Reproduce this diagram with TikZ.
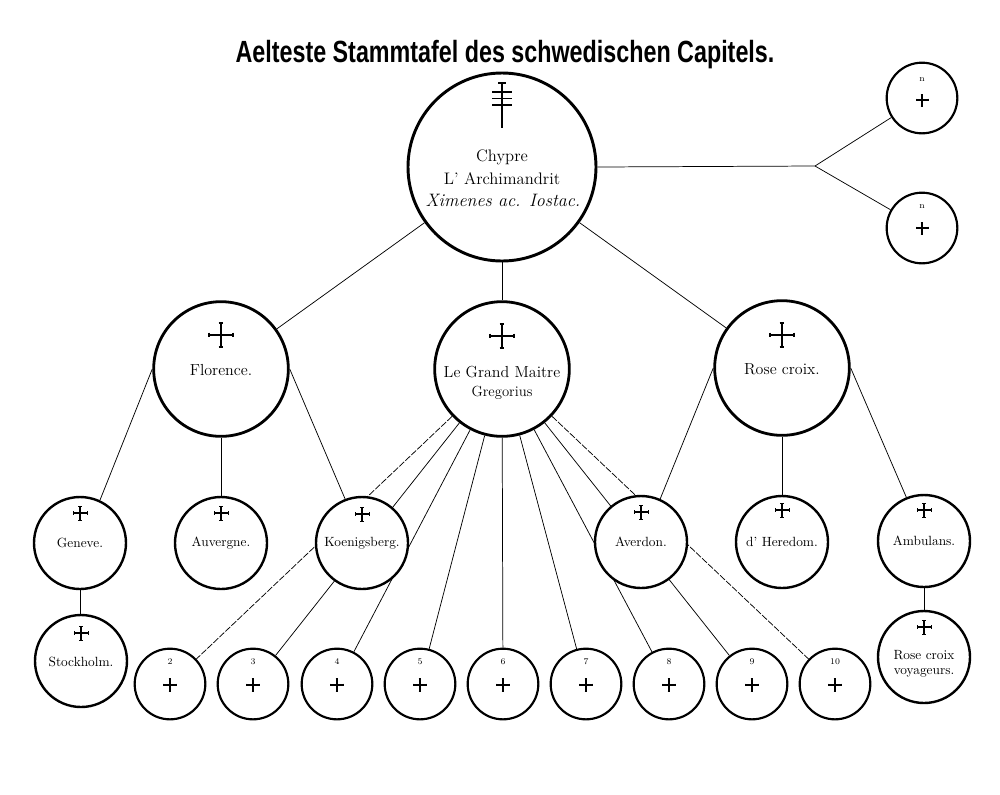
\documentclass[tikz,border=0pt]{standalone}
\usepackage{fontspec}
\newfontfamily\titlefont{Liberation Sans}
\usetikzlibrary{backgrounds}
\tikzset{
  crossL/.pic={
    \draw[line width=1.7pt] (-1,0)--(1,0) (0,-1)--(0,1);
    \draw[line width=0.9pt] (-1,-0.2)--(-1,0.2) (1,-0.2)--(1,0.2) (-0.2,-1)--(0.2,-1) (-0.2,1)--(0.2,1);
  },
  crossS/.pic={
    \draw[line width=1.2pt] (-1,0)--(1,0) (0,-1)--(0,1);
    \draw[line width=0.7pt] (-1,-0.22)--(-1,0.22) (1,-0.22)--(1,0.22) (-0.22,-1)--(0.22,-1) (-0.22,1)--(0.22,1);
  }
}
\begin{document}
\begin{tikzpicture}[x=0.75pt,y=-0.75pt,
  ring/.style={circle,draw,fill=white,inner sep=0pt},
  chyring/.style={ring,line width=2.2pt,minimum size=141pt},
  bigring/.style={ring,line width=2.1pt,minimum size=101pt},
  midring/.style={ring,line width=1.8pt,minimum size=69pt},
  smallring/.style={ring,line width=1.6pt,minimum size=53pt},
  conn/.style={line width=0.55pt},
  dconn/.style={conn,dash pattern=on 5pt off 1.2pt},
  lblA/.style={inner sep=0pt,font=\fontsize{12.5}{14}\selectfont},
  lblB/.style={inner sep=0pt,font=\fontsize{12}{14}\selectfont},
  lblC/.style={inner sep=0pt,font=\fontsize{10}{12}\selectfont},
  lblN/.style={inner sep=0pt,font=\fontsize{6.5}{7}\selectfont}
]
\useasboundingbox (0,0) rectangle (1000,794);

% title
\node[inner sep=0pt,anchor=base] (title) at (505,62)
  {\titlefont\bfseries\fontsize{23}{26}\selectfont\scalebox{0.76}[1]{Aelteste Stammtafel des schwedischen Capitels.}};

% circles
\node[chyring] (chy) at (502,167) {};
\node[smallring] (n1) at (922,98) {};
\node[smallring] (n2) at (922,228) {};
\coordinate (br) at (815,166);

\node[bigring] (flor) at (221,369) {};
\node[bigring] (gm) at (502,369) {};
\node[bigring] (rose) at (782,368) {};

\node[midring] (gen) at (80,543) {};
\node[midring] (auv) at (221,543) {};
\node[midring] (koe) at (362,543) {};
\node[midring] (ave) at (641,542) {};
\node[midring] (her) at (782,542) {};
\node[midring] (amb) at (924,541) {};
\node[midring] (sto) at (81,661) {};
\node[midring] (rcv) at (924,657) {};

\foreach \i/\x in {2/170,3/253,4/337,5/420,6/503,7/586,8/669,9/752,10/835}{
  \node[smallring] (c\i) at (\x,684) {};
  \node[lblN] (c\i n) at (\x,662) {\i};
  \pic[scale=6.5] at (\x,685) {crossS};
}

% connectors (behind the circles)
\begin{scope}[on background layer]
  \fill[white] (0,0) rectangle (1000,794);
  \draw[conn] (chy) -- (flor);
  \draw[conn] (chy) -- (gm);
  \draw[conn] (chy) -- (rose);
  \draw[conn] (chy.east) -- (br);
  \draw[conn] (br) -- (n1);
  \draw[conn] (br) -- (n2);
  \draw[conn] (flor.west) -- (gen.65);
  \draw[conn] (flor) -- (auv);
  \draw[conn] (flor.east) -- (koe.111);
  \draw[conn] (gen) -- (sto);
  \draw[dconn] (gm) -- (c2);
  \draw[conn] (gm) -- (c3);
  \draw[conn] (gm) -- (c4);
  \draw[conn] (gm) -- (c5);
  \draw[conn] (gm) -- (c6);
  \draw[conn] (gm) -- (c7);
  \draw[conn] (gm) -- (c8);
  \draw[conn] (gm) -- (c9);
  \draw[dconn] (gm) -- (c10);
  \draw[conn] (rose.west) -- (ave.66);
  \draw[conn] (rose) -- (her);
  \draw[conn] (rose.east) -- (amb.112);
  \draw[conn] (amb) -- (rcv);
\end{scope}

% Chypre contents
\draw[line width=1.5pt] (502,83) -- (502,128);
\draw[line width=1.3pt] (498,83) -- (506,83) (492,92) -- (512,92) (492,98.5) -- (512,98.5) (492,105) -- (512,105);
\node[lblA] (chyA) at (502,157) {Chypre};
\node[lblA] (chyB) at (502,179) {L' Archimandrit};
\node[inner sep=0pt,font=\fontsize{13.5}{15}\selectfont\itshape] (chyC) at (503,200) {Ximenes ac. Iostac.};

% top-right small circles
\node[lblN] (n1n) at (922,80) {n};
\pic[scale=6] at (922,100) {crossS};
\node[lblN] (n2n) at (922,207) {n};
\pic[scale=6] at (922,228) {crossS};

% level 2
\pic[scale=12] at (221,335) {crossL};
\node[lblB] (florT) at (221,370) {Florence.};
\pic[scale=12] at (502,336) {crossL};
\node[lblB] (gmT) at (502,372) {Le Grand Maitre};
\node[inner sep=0pt,font=\fontsize{11}{13}\selectfont] (gmU) at (502,393) {Gregorius};
\pic[scale=12] at (782,335) {crossL};
\node[lblB] (roseT) at (782,369) {Rose croix.};

% level 3
\pic[scale=7] at (80,513) {crossS};
\node[lblC] (genT) at (80,543) {Geneve.};
\pic[scale=7] at (221,513) {crossS};
\node[lblC] (auvT) at (221,543) {Auvergne.};
\pic[scale=7] at (362,514) {crossS};
\node[lblC] (koeT) at (362,543) {Koenigsberg.};
\pic[scale=7] at (641,512) {crossS};
\node[lblC] (aveT) at (641,542) {Averdon.};
\pic[scale=7] at (782,510) {crossS};
\node[lblC] (herT) at (782,542) {d' Heredom.};
\pic[scale=7] at (924,510) {crossS};
\node[lblC] (ambT) at (924,541) {Ambulans.};
\pic[scale=7] at (81,633) {crossS};
\node[lblC] (stoT) at (81,662) {Stockholm.};
\pic[scale=7] at (924,627) {crossS};
\node[lblC] (rcvT) at (924,655) {Rose croix};
\node[lblC] (rcvU) at (924,673) {voyageurs.};
\end{tikzpicture}
\end{document}
